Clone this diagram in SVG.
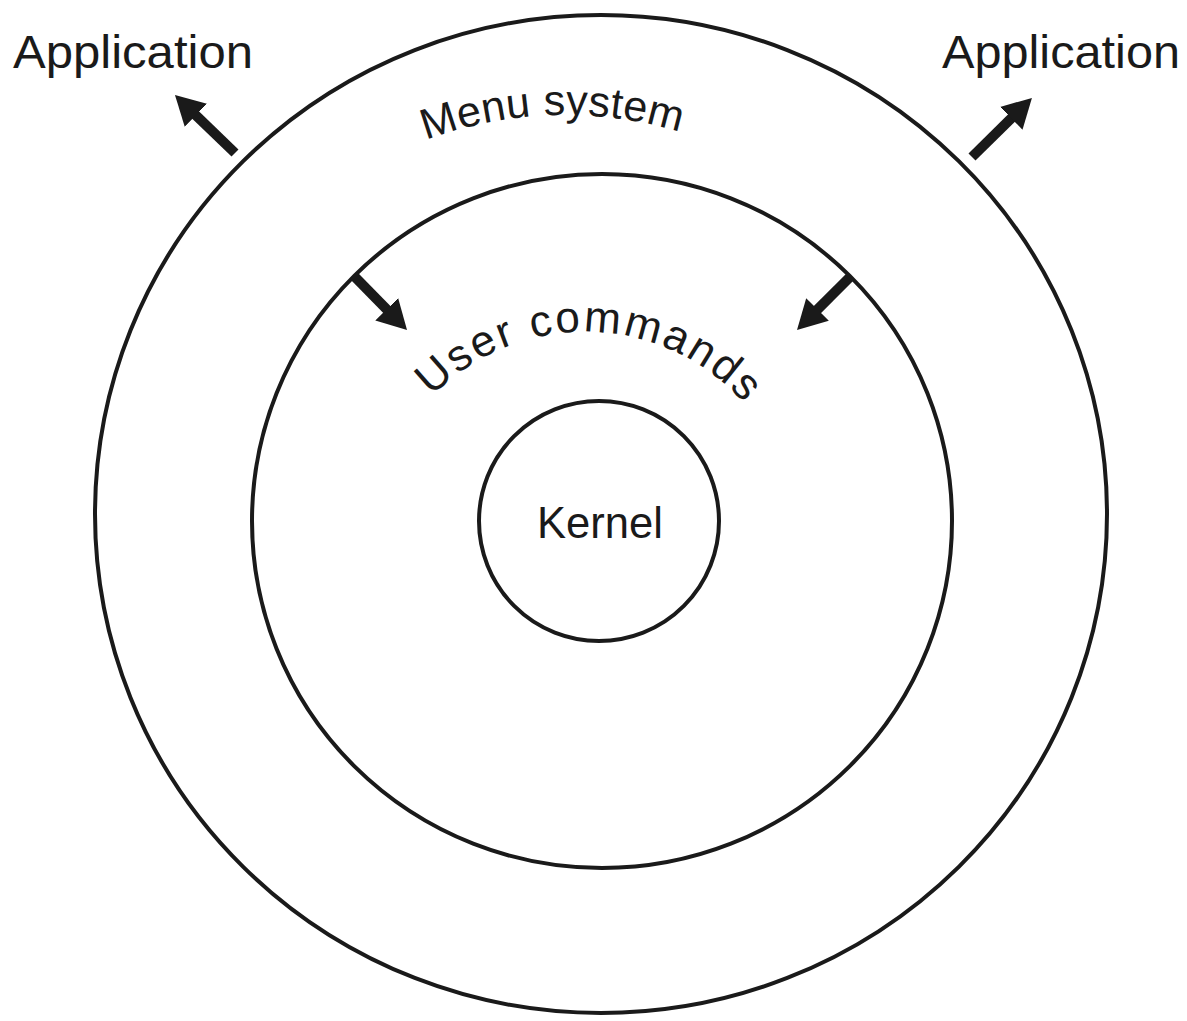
<svg xmlns="http://www.w3.org/2000/svg" width="1187" height="1021" viewBox="0 0 1187 1021">
<style>
.ring{fill:none;stroke:#1a1a1a;stroke-width:4}
.lbl{font-family:"Liberation Sans",Arial,sans-serif;fill:#1a1a1a}
.arr{stroke:#1a1a1a;stroke-width:10;fill:none;marker-end:url(#head)}
</style>
<defs>
<marker id="head" markerUnits="userSpaceOnUse" markerWidth="40" markerHeight="40" viewBox="0 -20 40 40" refX="2" refY="0" orient="auto">
<path d="M0,-16 L29,0 L0,16 Z" fill="#1a1a1a"/>
</marker>
<path id="menuArc" d="M222.9,312.5 A395,395 0 0 1 907.1,312.5"/>
<path id="userArc" d="M375.2,508 A213,213 0 0 1 794.8,508"/>
</defs>
<rect width="1187" height="1021" fill="#ffffff"/>
<g id="outer">
<ellipse class="ring" cx="601" cy="514" rx="506" ry="499"/>
<text class="lbl" font-size="43" letter-spacing="0.3" text-anchor="middle"><textPath href="#menuArc" startOffset="401">Menu system</textPath></text>
</g>
<g id="middle">
<ellipse class="ring" cx="602" cy="521" rx="350" ry="347"/>
<text class="lbl" font-size="44" letter-spacing="2.5" text-anchor="middle"><textPath href="#userArc" startOffset="303">User commands</textPath></text>
</g>
<g id="kernel">
<circle class="ring" cx="599" cy="521" r="120"/>
<text class="lbl" x="537" y="538" font-size="44" textLength="126" lengthAdjust="spacingAndGlyphs">Kernel</text>
</g>
<g id="app-left">
<text class="lbl" x="13" y="68" font-size="46" textLength="240" lengthAdjust="spacingAndGlyphs">Application</text>
</g>
<g id="app-right">
<text class="lbl" x="942" y="68" font-size="46" textLength="238" lengthAdjust="spacingAndGlyphs">Application</text>
</g>
<g id="connectors">
<line class="arr" x1="235" y1="153" x2="194.4" y2="113.8"/>
<line class="arr" x1="972" y1="157" x2="1012.7" y2="116.9"/>
<line class="arr" x1="355" y1="277" x2="388.1" y2="310.7"/>
<line class="arr" x1="850" y1="277" x2="816.1" y2="310.9"/>
</g>
</svg>
